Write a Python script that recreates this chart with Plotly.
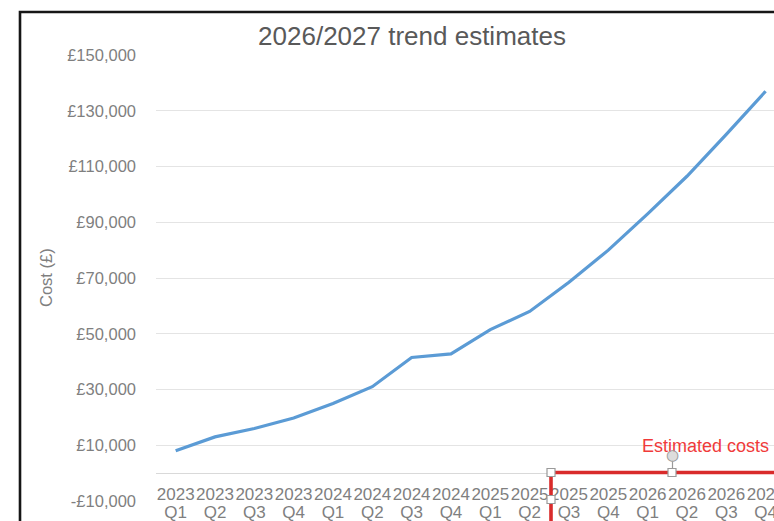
import plotly.graph_objects as go

# Quarterly cost series with its axis labels
years = ["2023", "2023", "2023", "2023", "2024", "2024", "2024", "2024",
         "2025", "2025", "2025", "2025", "2026", "2026", "2026", "2026"]
quarters = ["Q1", "Q2", "Q3", "Q4", "Q1", "Q2", "Q3", "Q4",
            "Q1", "Q2", "Q3", "Q4", "Q1", "Q2", "Q3", "Q4"]
costs = [8000, 13000, 16000, 19800, 25000, 31000, 41500, 42800,
         51500, 58000, 68500, 80000, 93000, 106500, 121500, 137000]
cost_ticks = [-10000, 10000, 30000, 50000, 70000, 90000, 110000, 130000, 150000]
cost_tick_text = ["-£10,000", "£10,000", "£30,000", "£50,000", "£70,000",
                  "£90,000", "£110,000", "£130,000", "£150,000"]
grid_ticks = cost_ticks[1:]

W, H = 774, 521
ML, MR, MT, MB = 156, 0, 55, 20
PW, PH = W - ML - MR, H - MT - MB
STEP = 39.33  # pixel width of one quarter on the category axis

def px(x):
    return (x - ML) / PW

def py(y):
    return (H - MB - y) / PH

idx = list(range(len(costs)))
x_range = [-0.5, -0.5 + PW / STEP]
y_range = [-10000, 150000]

FONT = "Liberation Sans, Arial, sans-serif"
GREY = "#7f7f7f"
RED_LINE = "#d92b2b"
RED_TEXT = "#f03a3a"

fig = go.Figure()
fig.add_trace(go.Scatter(
    x=idx, y=costs, mode="lines",
    line=dict(color="#5b9bd5", width=3.2),
    hoverinfo="skip", showlegend=False,
))

axis_zero = (0 - y_range[0]) / (y_range[1] - y_range[0])

fig.update_layout(
    width=W, height=H,
    margin=dict(l=ML, r=MR, t=MT, b=MB, pad=0),
    paper_bgcolor="white", plot_bgcolor="white",
    showlegend=False,
    title=dict(text="2026/2027 trend estimates", x=px(412), xref="paper",
               xanchor="center", y=1 - 36 / H, yref="container", yanchor="middle",
               font=dict(family=FONT, size=26, color="#595959")),
    xaxis=dict(range=x_range, tickmode="array", tickvals=idx, ticktext=years,
               tickangle=0, ticks="", showgrid=False, zeroline=False,
               showline=True, linecolor="#d9d9d9", linewidth=1.3,
               anchor="free", position=axis_zero, ticklabelstandoff=5,
               ticklabeloverflow="allow", automargin=False,
               tickfont=dict(family=FONT, size=17, color=GREY)),
    xaxis2=dict(range=x_range, overlaying="x", tickmode="array", tickvals=idx,
                ticktext=quarters, tickangle=0, ticks="", showgrid=False,
                zeroline=False, showline=False, anchor="free",
                position=axis_zero, side="bottom", ticklabelstandoff=27,
                ticklabeloverflow="allow", automargin=False,
                tickfont=dict(family=FONT, size=17, color=GREY)),
    yaxis=dict(range=y_range, tickmode="array", tickvals=cost_ticks,
               ticktext=cost_tick_text, ticks="", showgrid=False,
               zeroline=False, showline=False, ticklabelstandoff=19,
               automargin=False,
               tickfont=dict(family=FONT, size=16.5, color=GREY)),
    yaxis2=dict(range=y_range, overlaying="y", tickmode="array",
                tickvals=grid_ticks, showticklabels=False, ticks="",
                showgrid=True, gridcolor="#e4e4e4", gridwidth=1.2,
                zeroline=False, showline=False),
)

# invisible trace so the overlay axes are drawn
fig.add_trace(go.Scatter(x=[idx[0]], y=[costs[0]], xaxis="x2", yaxis="y2",
                         mode="markers", marker=dict(opacity=0),
                         hoverinfo="skip", showlegend=False))

shapes = []
# chart frame (black border on top and left)
shapes.append(dict(type="path", xref="paper", yref="paper",
                   path=f"M {px(20)},{py(560)} L {px(20)},{py(12)} L {px(820)},{py(12)}",
                   line=dict(color="#161616", width=2.6), layer="above"))
# red highlight box around the estimated quarters
shapes.append(dict(type="rect", xref="paper", yref="paper",
                   x0=px(551), x1=px(793), y0=py(527), y1=py(472.5),
                   line=dict(color=RED_LINE, width=3.6), layer="above"))
# selection handles on the box
for hx, hy in [(551, 472.5), (672, 472.5), (551, 499.5)]:
    shapes.append(dict(type="rect", xref="paper", yref="paper",
                       x0=px(hx - 4), x1=px(hx + 4), y0=py(hy + 4), y1=py(hy - 4),
                       fillcolor="white", line=dict(color="#9a9a9a", width=1.2),
                       layer="above"))
shapes.append(dict(type="line", xref="paper", yref="paper",
                   x0=px(672.5), x1=px(672.5), y0=py(468.5), y1=py(460),
                   line=dict(color="#9a9a9a", width=1.2), layer="above"))
fig.update_layout(shapes=shapes)

annotations = [
    dict(text="Cost (£)", x=px(46), y=py(278), xref="paper", yref="paper",
         xanchor="center", yanchor="middle", textangle=-90, showarrow=False,
         font=dict(family=FONT, size=16.5, color=GREY)),
    dict(text="Estimated costs", x=px(640), y=py(446), xref="paper", yref="paper",
         xanchor="left", yanchor="middle", showarrow=False,
         font=dict(family=FONT, size=18, color=RED_TEXT)),
    # rotation handle drawn over the label
    dict(text="●", x=px(672.5), y=py(455), xref="paper", yref="paper",
         xanchor="center", yanchor="middle", showarrow=False,
         font=dict(family="DejaVu Sans", size=15, color="rgba(215,215,215,0.85)")),
    dict(text="○", x=px(672.5), y=py(455), xref="paper", yref="paper",
         xanchor="center", yanchor="middle", showarrow=False,
         font=dict(family="DejaVu Sans", size=15, color="#9a9a9a")),
]
fig.update_layout(annotations=annotations)

fig.write_html("out.html", config={"displayModeBar": False})
